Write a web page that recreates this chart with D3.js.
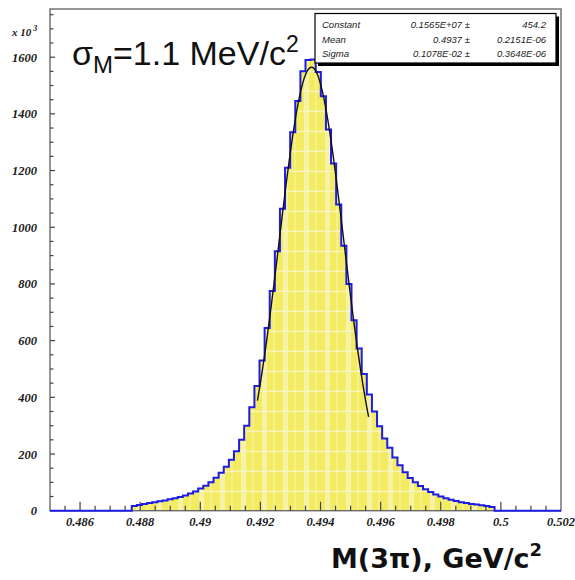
<!DOCTYPE html>
<html>
<head>
<meta charset="utf-8">
<script src="https://cdn.jsdelivr.net/npm/d3@7/dist/d3.min.js"></script>
<style>
  html, body { margin: 0; padding: 0; background: #fff; }
  svg { display: block; }
</style>
</head>
<body>
<svg id="chart" width="575" height="580"></svg>
<script>
// Histogram of the 3-pion invariant mass (entries in units of 10^3)
const binStart = 0.485;
const binWidth = 0.00017;
const binCounts = [
  0, 0, 0, 0, 0, 0, 0, 0, 0, 0, 0, 0, 0, 0, 0, 0,
  17, 20, 24, 27, 30, 33, 36, 40, 44, 48,
  54, 61, 68, 78, 88, 100, 116, 134, 155, 180,
  210, 250, 300, 365, 440, 530, 645, 775, 915, 1065,
  1210, 1335, 1445, 1550, 1590, 1592, 1548, 1462, 1345, 1225,
  1080, 935, 800, 672, 572, 482, 410, 350, 298, 255,
  222, 188, 160, 136, 115, 100, 87, 76, 66, 57,
  50, 44, 39, 34, 30, 27, 24, 22, 19, 17,
  13, 0, 0, 0, 0, 0, 0, 0, 0, 0, 0, 0, 0, 0
];

// Gaussian fit parameters and the range it was fitted over
const fitNames = ["Constant", "Mean", "Sigma"];
const fitValues = ["0.1565E+07", "0.4937", "0.1078E-02"];
const fitErrors = ["454.2", "0.2151E-06", "0.3648E-06"];
const fitConstant = 1565;      // 0.1565E+07 in units of 10^3
const fitMean = 0.4937;
const fitSigma = 0.001078;
const fitRange = [0.4919, 0.4956];

// Axis ticks
const xMajorTicks = [0.486, 0.488, 0.49, 0.492, 0.494, 0.496, 0.498, 0.5, 0.502];
const xTickLabels = ["0.486", "0.488", "0.49", "0.492", "0.494", "0.496", "0.498", "0.5", "0.502"];
const yMajorTicks = [0, 200, 400, 600, 800, 1000, 1200, 1400, 1600];

const svg = d3.select("#chart");

const x = d3.scaleLinear().domain([0.485, 0.502]).range([50, 561]);
const y = d3.scaleLinear().domain([0, 1770]).range([510.7, 9]);

// Fill pattern: yellow with paler vertical bands and faint horizontal lines
const defs = svg.append("defs");
const pat = defs.append("pattern")
  .attr("id", "yellowFill")
  .attr("patternUnits", "userSpaceOnUse")
  .attr("x", 50).attr("y", 510.7)
  .attr("width", 21).attr("height", 20);
pat.append("rect").attr("width", 21).attr("height", 20).attr("fill", "#f3ec63");
pat.append("rect").attr("x", 2).attr("width", 5).attr("height", 20).attr("fill", "#f7f3a6");
pat.append("rect").attr("x", 13).attr("width", 2).attr("height", 20).attr("fill", "#f6f08a");
pat.append("rect").attr("y", 0).attr("width", 21).attr("height", 1.2).attr("fill", "#faf7cf");

// Build histogram step outline
const bins = binCounts.map((c, i) => ({
  x0: binStart + i * binWidth,
  x1: binStart + (i + 1) * binWidth,
  v: c
}));

const stepPts = [];
bins.forEach(b => {
  stepPts.push([x(b.x0), y(b.v)]);
  stepPts.push([x(b.x1), y(b.v)]);
});

const areaPts = [[x(bins[0].x0), y(0)], ...stepPts, [x(bins[bins.length - 1].x1), y(0)]];

svg.append("path")
  .attr("d", d3.line()(areaPts) + "Z")
  .attr("fill", "url(#yellowFill)")
  .attr("stroke", "none");

// Frame
svg.append("rect")
  .attr("x", x(0.485)).attr("y", y(1770))
  .attr("width", x(0.502) - x(0.485)).attr("height", y(0) - y(1770))
  .attr("fill", "none")
  .attr("stroke", "#6a6a6a")
  .attr("stroke-width", 1.4);

// X ticks (major every 0.002, minor every 0.0005), drawn upward from the axis
const xMinor = d3.range(0, 35).map(k => 0.485 + k * 0.0005).filter(v => v > 0.4851 && v < 0.5019);
svg.append("g").selectAll("line").data(xMinor).join("line")
  .attr("x1", d => x(d)).attr("x2", d => x(d))
  .attr("y1", y(0)).attr("y2", d => {
    const isMajor = xMajorTicks.some(t => Math.abs(t - d) < 1e-7);
    return y(0) - (isMajor ? 9 : 5);
  })
  .attr("stroke", "#444").attr("stroke-width", 1.2);

// Y ticks (major every 200, minor every 50)
const yMinor = d3.range(0, 36).map(k => k * 50).filter(v => v > 0 && v < 1770);
svg.append("g").selectAll("line").data(yMinor).join("line")
  .attr("x1", x(0.485)).attr("x2", d => x(0.485) + (d % 200 === 0 ? 5 : 3.5))
  .attr("y1", d => y(d)).attr("y2", d => y(d))
  .attr("stroke", "#444").attr("stroke-width", 1.2);

// Tick labels in bold italic serif
function tickFont(sel, size) {
  return sel
    .style("font-family", '"Liberation Serif"')
    .style("font-style", "italic")
    .style("font-weight", "bold")
    .style("font-size", size + "px")
    .style("fill", "#1a1a1a");
}

svg.append("g").selectAll("text").data(xMajorTicks).join("text")
  .attr("x", d => x(d)).attr("y", 526)
  .attr("text-anchor", "middle")
  .call(tickFont, 12.5)
  .text((d, i) => xTickLabels[i]);

svg.append("g").selectAll("text").data(yMajorTicks).join("text")
  .attr("x", 37).attr("y", d => y(d) + 4.5)
  .attr("text-anchor", "end")
  .call(tickFont, 12.5)
  .text(d => d);

const mult = svg.append("text")
  .attr("x", 12).attr("y", 36)
  .call(tickFont, 11);
mult.append("tspan").text("x 10");
mult.append("tspan").attr("dy", -5).style("font-size", "8px").text(" 3");

// Histogram outline
svg.append("path")
  .attr("d", d3.line()(stepPts))
  .attr("fill", "none")
  .attr("stroke", "#1c1ce6")
  .attr("stroke-width", 2)
  .attr("stroke-linejoin", "miter");

// Gaussian fit curve
const gauss = m => fitConstant * Math.exp(-0.5 * Math.pow((m - fitMean) / fitSigma, 2));
const fitPts = d3.range(0, 121).map(k => {
  const m = fitRange[0] + (fitRange[1] - fitRange[0]) * k / 120;
  return [x(m), y(gauss(m))];
});
svg.append("path")
  .attr("d", d3.line().curve(d3.curveBasis)(fitPts))
  .attr("fill", "none")
  .attr("stroke", "#111")
  .attr("stroke-width", 1.4);

// Statistics box with drop shadow
const box = { x: 315, y: 13.5, w: 241, h: 49.5 };
svg.append("rect")
  .attr("x", box.x + 3).attr("y", box.y + 3)
  .attr("width", box.w).attr("height", box.h)
  .attr("fill", "#000");
svg.append("rect")
  .attr("x", box.x).attr("y", box.y)
  .attr("width", box.w).attr("height", box.h)
  .attr("fill", "#fff").attr("stroke", "#000").attr("stroke-width", 1.2);

function statFont(sel) {
  return sel
    .style("font-family", '"Liberation Sans"')
    .style("font-style", "italic")
    .style("font-size", "9.5px")
    .style("fill", "#222");
}
const rowY = [28, 43, 57];
const rows = svg.append("g");
fitNames.forEach((n, i) => {
  rows.append("text").call(statFont).attr("x", 322).attr("y", rowY[i]).text(n);
  rows.append("text").call(statFont).attr("x", 470).attr("y", rowY[i]).attr("text-anchor", "end").text(fitValues[i] + " \u00b1");
  rows.append("text").call(statFont).attr("x", 546).attr("y", rowY[i]).attr("text-anchor", "end").text(fitErrors[i]);
});

// Resolution annotation
const sig = svg.append("text")
  .attr("x", 72).attr("y", 65)
  .style("font-family", '"Liberation Sans"')
  .style("font-size", "34px")
  .style("fill", "#111");
sig.append("tspan").text("\u03c3");
sig.append("tspan").attr("dy", 8).style("font-size", "24px").text("M");
sig.append("tspan").attr("dy", -8).text("=1.1 MeV/c");
sig.append("tspan").attr("dy", -13).style("font-size", "23px").text("2");

// X-axis title
const xt = svg.append("text")
  .attr("x", 331).attr("y", 568)
  .style("font-family", '"DejaVu Sans"')
  .style("font-weight", "bold")
  .style("font-size", "27px")
  .style("fill", "#111");
xt.append("tspan").text("M(3\u03c0), GeV/c");
xt.append("tspan").attr("dy", -12).style("font-size", "18px").text("2");
</script>
</body>
</html>
